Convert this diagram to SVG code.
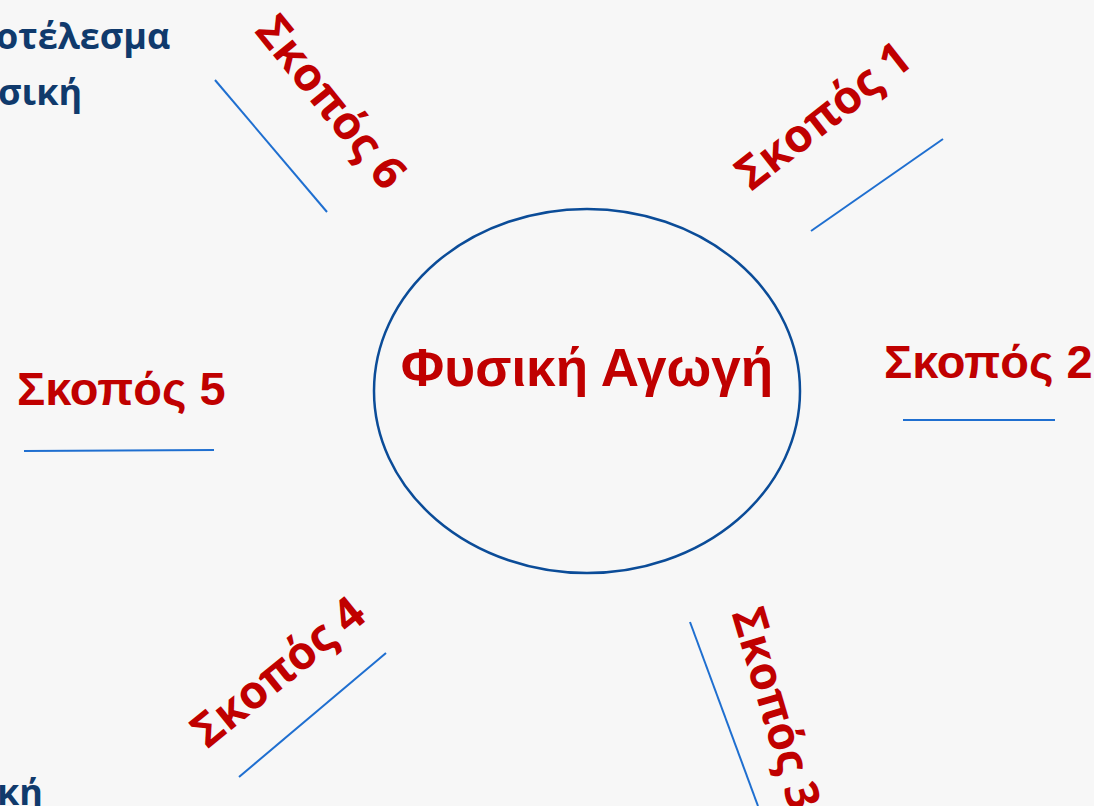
<svg xmlns="http://www.w3.org/2000/svg" width="1094" height="806" viewBox="0 0 1094 806">
<style>
.lbl{font-family:"Liberation Sans",Arial,sans-serif;font-weight:bold;fill:#c00000;}
.rot{font-family:"Open Sans","Noto Sans",sans-serif;font-weight:bold;fill:#c00000;font-size:46px;text-anchor:middle;}
.nav{font-family:"Open Sans","Noto Sans",sans-serif;font-weight:bold;fill:#103a6c;font-size:36px;}
.ln{stroke:#1f6fd0;stroke-width:2;fill:none;}
</style>
<rect width="1094" height="806" fill="#f7f7f7"/>
<g id="side-text">
<text class="nav" x="-4" y="49">οτέλεσμα</text>
<text class="nav" x="-2" y="105" font-size="38">σική</text>
<text class="nav" x="-3" y="805" font-size="38">κή</text>
</g>
<g id="center">
<ellipse cx="587" cy="391" rx="213" ry="182" fill="none" stroke="#0b4c98" stroke-width="2.5"/>
<text class="lbl" x="587" y="386" font-size="53" text-anchor="middle">Φυσική Αγωγή</text>
</g>
<g id="connectors">
<line class="ln" x1="811" y1="231" x2="943" y2="139"/>
<line class="ln" x1="903" y1="420" x2="1055" y2="420"/>
<line class="ln" x1="690" y1="622" x2="758" y2="806"/>
<line class="ln" x1="239" y1="777" x2="386" y2="653"/>
<line class="ln" x1="24" y1="451" x2="214" y2="450"/>
<line class="ln" x1="215" y1="80" x2="327" y2="212"/>
</g>
<g id="goal1"><text class="rot" transform="translate(833,128) rotate(-38)">Σκοπός 1</text></g>
<g id="goal2"><text class="lbl" x="884" y="378" font-size="47">Σκοπός 2</text></g>
<g id="goal3"><text class="rot" transform="translate(761,713) rotate(73.5)">Σκοπός 3</text></g>
<g id="goal4"><text class="rot" transform="translate(288,684) rotate(-39)">Σκοπός 4</text></g>
<g id="goal5"><text class="lbl" x="17" y="405" font-size="47">Σκοπός 5</text></g>
<g id="goal6"><text class="rot" transform="translate(319,112) rotate(51)">Σκοπός 6</text></g>
</svg>
